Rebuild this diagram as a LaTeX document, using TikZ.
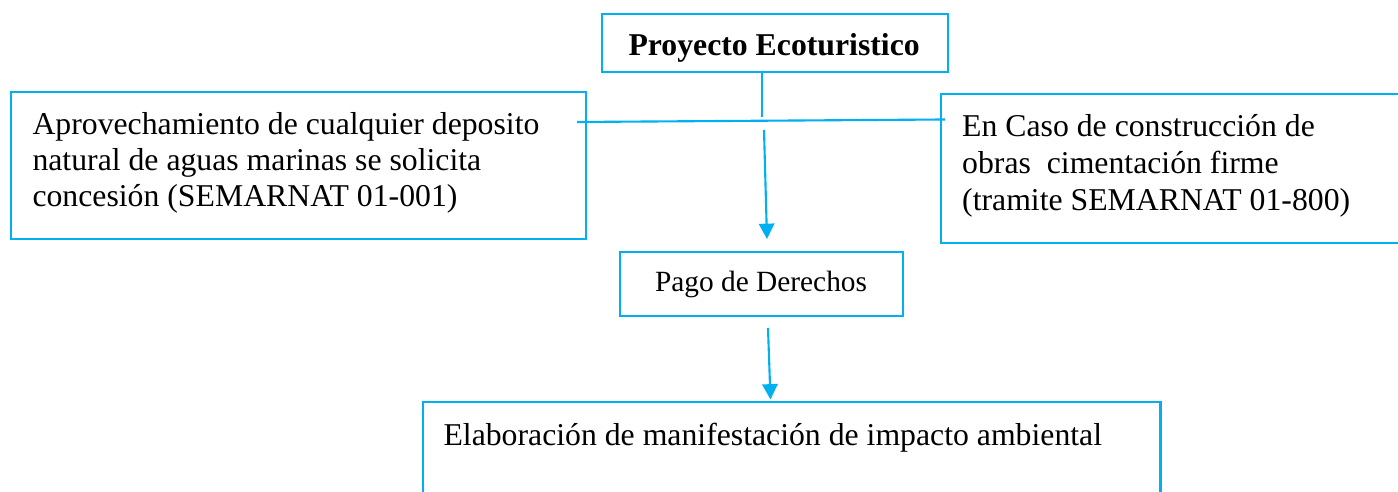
\documentclass[tikz,border=0pt]{standalone}
\usepackage{fontspec}
\setmainfont{Liberation Serif}
\usetikzlibrary{fit,arrows.meta}
\definecolor{wordblue}{HTML}{00B0F0}
\tikzset{
  box/.style={draw=wordblue, line width=0.8pt, inner sep=0pt, fill=none},
  txt/.style={anchor=base west, inner sep=0pt, font=\fontsize{12}{13.8}\selectfont},
  conn/.style={draw=wordblue, line width=0.8pt},
  arr/.style={draw=wordblue, line width=0.8pt, -{Triangle[width=5.8pt,length=5.8pt]}},
}
\begin{document}
\begin{tikzpicture}[x=0.378pt, y=-0.378pt]
\useasboundingbox (0,0) rectangle (1398,492);
% boxes
\node[box, fit={(602,14) (948,72)}] (T) {};
\node[box, fit={(10.7,92) (585.7,239)}] (L) {};
\node[box, fit={(940.7,94) (1410,243)}] (R) {};
\node[box, fit={(620,252) (903,316)}] (P) {};
\node[box, fit={(422.7,402.3) (1160.5,505)}] (B) {};
% texts
\node[txt, font=\fontsize{12}{13.8}\selectfont\bfseries] (tT) at (628,56) {Proyecto Ecoturistico};
\node[txt] (tL1) at (32,135) {Aprovechamiento de cualquier deposito};
\node[txt] (tL2) at (32,171) {natural de aguas marinas se solicita};
\node[txt] (tL3) at (32,206.5) {concesión (SEMARNAT 01-001)};
\node[txt] (tR1) at (961.7,137) {En Caso de construcción de};
\node[txt] (tR2) at (961.7,174) {obras~~cimentación firme};
\node[txt] (tR3) at (961.7,211) {(tramite SEMARNAT 01-800)};
\node[txt, font=\fontsize{11.1}{13}\selectfont] (tP) at (654.5,292) {Pago de Derechos};
\node[txt] (tB) at (443,446) {Elaboración de manifestación de impacto ambiental};
% connectors
\coordinate (j) at (762,117);
\coordinate (hl) at (577,122);
\coordinate (hr) at (945,119.5);
\coordinate (a1s) at (764,130);
\coordinate (a1e) at (767,239);
\coordinate (a2s) at (768,328);
\coordinate (a2e) at (770.5,399.5);
\draw[conn] (T.south -| j) -- (j);
\draw[conn] (hl) -- (hr);
\draw[arr] (a1s) -- (a1e);
\draw[arr] (a2s) -- (a2e);
\end{tikzpicture}
\end{document}
